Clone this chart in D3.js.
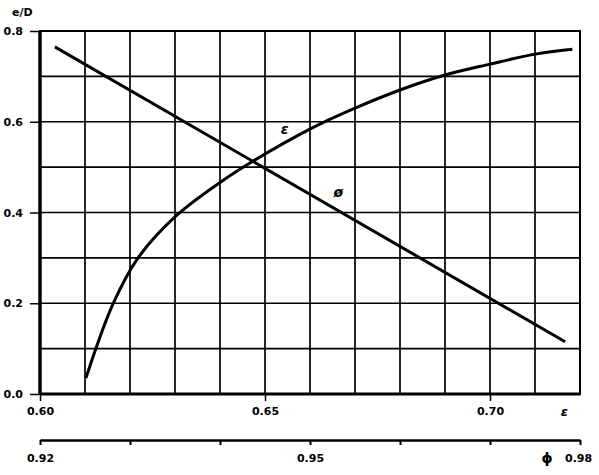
<!DOCTYPE html>
<html>
<head>
<meta charset="utf-8">
<script src="https://cdn.jsdelivr.net/npm/d3@7"></script>
<style>
  body { margin: 0; background: #fff; }
  text { font-family: "DejaVu Sans", sans-serif; font-weight: bold; fill: #000; }
</style>
</head>
<body>
<div id="chart"></div>
<script>
// chart values
var epsX = [0.6102, 0.6162, 0.6218, 0.6304, 0.6404, 0.6473, 0.6604, 0.6700, 0.6800, 0.6900, 0.7000, 0.7100, 0.7183];
var epsY = [0.035, 0.198, 0.300, 0.394, 0.469, 0.513, 0.586, 0.630, 0.670, 0.703, 0.727, 0.749, 0.760];
var phiX = [0.6033, 0.7167];
var phiY = [0.765, 0.115];

var xTicks = [0.60, 0.65, 0.70];
var yTicks = [0.0, 0.2, 0.4, 0.6, 0.8];
var phiTicks = [0.92, 0.93, 0.94, 0.95, 0.96, 0.97, 0.98];
var phiLabels = [0.92, 0.95];

var svgWidth = 599;
var svgHeight = 475;

var margin = { top: 31, right: 19, bottom: 81, left: 40 };
var width = svgWidth - margin.left - margin.right;
var height = svgHeight - margin.top - margin.bottom;

var svg = d3.select("#chart")
  .append("svg")
  .attr("width", svgWidth)
  .attr("height", svgHeight);

var chartGroup = svg.append("g")
  .attr("transform", `translate(${margin.left}, ${margin.top})`);

var x = d3.scaleLinear().domain([0.60, 0.72]).range([0, width]);
var y = d3.scaleLinear().domain([0, 0.8]).range([height, 0]);
var x2 = d3.scaleLinear().domain([0.92, 0.98]).range([0, width]);

// grid
chartGroup.append("g")
  .selectAll("line")
  .data(d3.range(0, 13).map(i => 0.60 + i * 0.01))
  .enter()
  .append("line")
  .attr("x1", d => x(d)).attr("x2", d => x(d))
  .attr("y1", 0).attr("y2", height)
  .attr("stroke", "#000").attr("stroke-width", 1.7);

chartGroup.append("g")
  .selectAll("line")
  .data(d3.range(0, 9).map(i => i * 0.1))
  .enter()
  .append("line")
  .attr("x1", 0).attr("x2", width)
  .attr("y1", d => y(d)).attr("y2", d => y(d))
  .attr("stroke", "#000").attr("stroke-width", 1.7);

// frame
chartGroup.append("rect")
  .attr("width", width).attr("height", height)
  .attr("fill", "none").attr("stroke", "#000").attr("stroke-width", 2);
chartGroup.append("line")
  .attr("x1", 0).attr("x2", 0).attr("y1", 0).attr("y2", height)
  .attr("stroke", "#000").attr("stroke-width", 3.5);
chartGroup.append("line")
  .attr("x1", 0).attr("x2", width).attr("y1", height).attr("y2", height)
  .attr("stroke", "#000").attr("stroke-width", 3);

// axes
var leftAxis = d3.axisLeft(y).tickValues(yTicks).tickFormat(d3.format(".1f"))
  .tickSize(10).tickPadding(7);
var ly = chartGroup.append("g").call(leftAxis);
ly.select(".domain").remove();
ly.selectAll("line").attr("stroke-width", 1.5);
ly.selectAll("text").style("font-size", "11px");

var bottomAxis = d3.axisBottom(x).tickValues(xTicks).tickFormat(d3.format(".2f"))
  .tickSize(7).tickPadding(6);
var bx = chartGroup.append("g")
  .attr("transform", `translate(0, ${height})`)
  .call(bottomAxis);
bx.select(".domain").remove();
bx.selectAll("line").attr("stroke-width", 1.5);
bx.selectAll("text").style("font-size", "11px");

chartGroup.append("text")
  .attr("x", x(0.7165)).attr("y", height + 22)
  .attr("text-anchor", "middle")
  .style("font-size", "13px").style("font-style", "italic")
  .text("ε");

// secondary phi axis
var phiAxis = d3.axisBottom(x2).tickValues(phiTicks)
  .tickFormat(d => phiLabels.indexOf(d) >= 0 ? d3.format(".2f")(d) : "")
  .tickSize(5).tickPadding(9).tickSizeOuter(0);
var px = chartGroup.append("g")
  .attr("transform", `translate(0, ${height + 46})`)
  .call(phiAxis);
px.select(".domain").attr("stroke-width", 2.5);
px.selectAll("line").attr("stroke-width", 2);
px.selectAll("text").style("font-size", "11px");

chartGroup.append("text")
  .attr("x", x2(0.98) - 33).attr("y", height + 69)
  .attr("text-anchor", "middle")
  .style("font-size", "14px")
  .text("ϕ");
chartGroup.append("text")
  .attr("x", x2(0.98) - 15).attr("y", height + 68)
  .style("font-size", "11px")
  .text("0.98");

chartGroup.append("text")
  .attr("x", -28).attr("y", -15)
  .style("font-size", "11px")
  .text("e/D");

// curves
var epsData = epsX.map((d, i) => [d, epsY[i]]);
var phiData = phiX.map((d, i) => [d, phiY[i]]);

var epsLine = d3.line()
  .x(d => x(d[0]))
  .y(d => y(d[1]))
  .curve(d3.curveCatmullRom.alpha(0.5));

var phiLine = d3.line()
  .x(d => x(d[0]))
  .y(d => y(d[1]));

chartGroup.append("path")
  .datum(epsData)
  .attr("d", epsLine)
  .attr("fill", "none").attr("stroke", "#000").attr("stroke-width", 3);

chartGroup.append("path")
  .datum(phiData)
  .attr("d", phiLine)
  .attr("fill", "none").attr("stroke", "#000").attr("stroke-width", 3);

// curve labels
chartGroup.append("text")
  .attr("x", x(0.6535)).attr("y", y(0.572))
  .style("font-size", "14px").style("font-style", "italic")
  .text("ε");
chartGroup.append("text")
  .attr("x", x(0.6652)).attr("y", y(0.435))
  .style("font-size", "14px").style("font-style", "italic")
  .text("ø");
</script>
</body>
</html>
